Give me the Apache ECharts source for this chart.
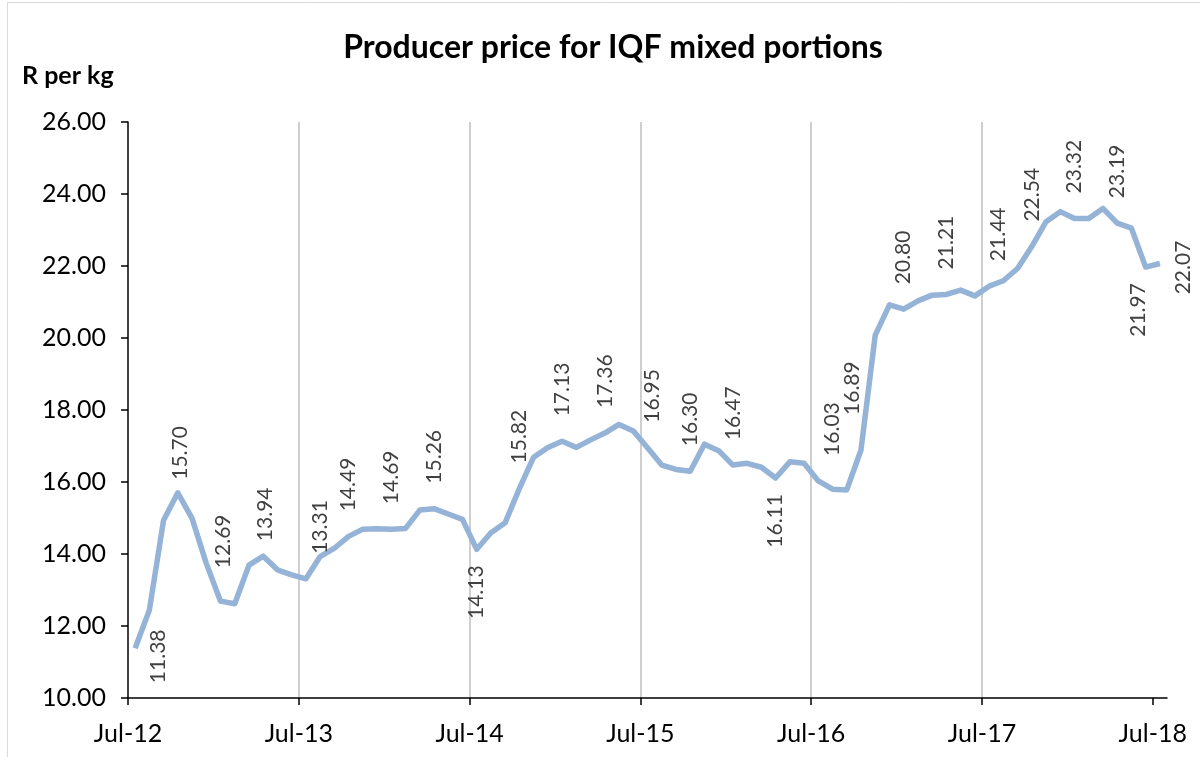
<!DOCTYPE html>
<html>
<head>
<meta charset="utf-8">
<title>Producer price for IQF mixed portions</title>
<script src="https://cdn.jsdelivr.net/npm/echarts@6/dist/echarts.min.js"></script>
<style>
  html, body { margin: 0; padding: 0; background: #fff; }
  #chart { width: 1200px; height: 757px; }
</style>
</head>
<body>
<div id="chart"></div>
<script>
// monthly producer price (R/kg), Jul-12 .. Jul-18
const prices = [
  11.38, 12.44, 14.94, 15.70, 14.99, 13.74, 12.69, 12.62, 13.69, 13.94, 13.56, 13.42,
  13.31, 13.93, 14.16, 14.49, 14.69, 14.70, 14.69, 14.71, 15.22, 15.26, 15.11, 14.96,
  14.13, 14.59, 14.87, 15.82, 16.69, 16.96, 17.13, 16.96, 17.17, 17.36, 17.60, 17.42,
  16.95, 16.47, 16.35, 16.30, 17.05, 16.87, 16.47, 16.52, 16.41, 16.11, 16.56, 16.52,
  16.03, 15.80, 15.78, 16.89, 20.08, 20.92, 20.80, 21.03, 21.19, 21.21, 21.33, 21.17,
  21.44, 21.59, 21.93, 22.54, 23.23, 23.51, 23.32, 23.32, 23.60, 23.19, 23.05, 21.97,
  22.07
]
const tickLabels = ['Jul-12', 'Jul-13', 'Jul-14', 'Jul-15', 'Jul-16', 'Jul-17', 'Jul-18']
// points that carry a data label
const labelled = [0, 3, 6, 9, 12, 15, 18, 21, 24, 27, 30, 33, 36, 39, 42, 45, 48, 51, 54, 57, 60, 63, 66, 69, 71, 72]

// label placement (default: above the line) and screen nudges [dx, dy] as in the excel chart
const placeAt = { 0: 'right', 24: 'bottom', 45: 'bottom', 71: 'bottom', 72: 'right' }
const nudge = {
  0: [0, 8], 3: [2, 12], 6: [3, -8], 9: [2, 10], 12: [14, 0], 36: [5, 0],
  48: [14, 0], 51: [-9, -10], 60: [9, 0], 71: [-7, 0], 72: [0, 4]
}

const chart = echarts.init(document.getElementById('chart'))
const font = 'Lato, "Open Sans", sans-serif'

const tickValues = tickLabels.map((t, i) => i * 12)

function pointLabel(i) {
  if (labelled.indexOf(i) < 0) return { show: false }
  let lab = {
    show: true, rotate: 90, fontSize: 21, color: '#404040', fontFamily: font,
    formatter: p => p.value[1].toFixed(2)
  }
  let where = placeAt[i] || 'top'
  if (where === 'right') {
    return Object.assign(lab, { position: 'right', align: 'center', verticalAlign: 'middle', distance: 22 })
  }
  if (where === 'bottom') {
    return Object.assign(lab, { position: 'bottom', align: 'right', verticalAlign: 'middle', distance: 15 })
  }
  return Object.assign(lab, { position: 'top', align: 'left', verticalAlign: 'middle', distance: 24 })
}

// x = months since start of Jul-12, each price sits in the middle of its month
const seriesData = prices.map((v, i) => ({
  value: [i + 0.5, v],
  label: pointLabel(i)
}))

chart.setOption({
  animation: false,
  backgroundColor: '#fff',
  title: {
    text: 'Producer price for IQF mixed portions',
    left: 608, top: 27, textAlign: 'center',
    textStyle: { fontFamily: font, fontSize: 32, fontWeight: 'bold', color: '#000' }
  },
  graphic: [
    {
      type: 'rect', silent: true,
      shape: { x: 7.5, y: 2.5, width: 1200, height: 800 },
      style: { fill: 'none', stroke: '#d9d9d9', lineWidth: 1 }
    },
    {
      type: 'text', left: 22, top: 63,
      style: { text: 'R per kg', fontFamily: font, fontSize: 25, fontWeight: 'bold', fill: '#000' }
    }
  ],
  grid: { left: 128, right: 33, top: 122, bottom: 59, containLabel: false },
  xAxis: {
    type: 'value', min: 0, max: 73, interval: 12,
    axisLine: { lineStyle: { color: '#000', width: 1.5 } },
    axisTick: { show: true, length: 7, customValues: tickValues, lineStyle: { color: '#000', width: 1.5 } },
    axisLabel: {
      customValues: tickValues, margin: 23, fontSize: 25, color: '#000', fontFamily: font,
      formatter: v => tickLabels[Math.round(v / 12)] || ''
    },
    splitLine: { show: true, showMinLine: false, showMaxLine: false, lineStyle: { color: '#bfbfbf', width: 1.5 } }
  },
  yAxis: {
    type: 'value', min: 10, max: 26, interval: 2,
    axisLine: { show: true, lineStyle: { color: '#000', width: 1.5 } },
    axisTick: { show: true, length: 7, lineStyle: { color: '#000', width: 1.5 } },
    axisLabel: { margin: 22, fontSize: 25, color: '#000', fontFamily: font, formatter: v => v.toFixed(2) },
    splitLine: { show: false }
  },
  series: [{
    type: 'line',
    data: seriesData,
    showSymbol: true,
    symbol: 'circle',
    symbolSize: 2,
    lineStyle: { color: '#95b3d7', width: 5.5, join: 'round' },
    itemStyle: { color: 'rgba(0,0,0,0)', borderWidth: 0 },
    // dx/dy act in the rotated frame of the label, so swap them round
    labelLayout: p => {
      const n = nudge[p.dataIndex]
      return n ? { dx: -n[1], dy: n[0], hideOverlap: false } : { hideOverlap: false }
    }
  }]
})
</script>
</body>
</html>
